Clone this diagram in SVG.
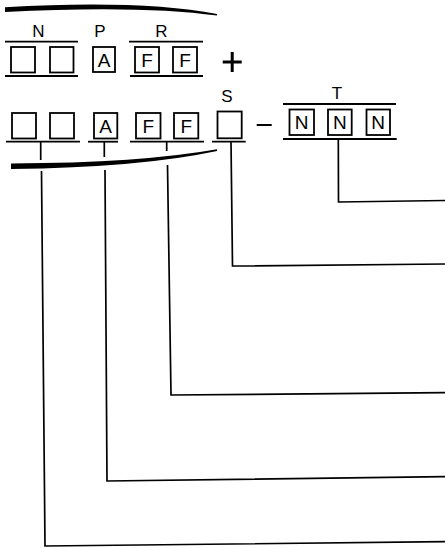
<svg xmlns="http://www.w3.org/2000/svg" width="445" height="548" viewBox="0 0 445 548">
<style>
  .bx { fill: none; stroke: #000; stroke-width: 1.8; }
  .ln { fill: none; stroke: #000; stroke-width: 1.8; }
  .cn { fill: none; stroke: #000; stroke-width: 1.7; }
  .lb { font-family: "Liberation Sans", Arial, sans-serif; font-size: 17px; fill: #000; text-anchor: middle; }
  .bl { font-family: "Liberation Sans", Arial, sans-serif; font-size: 19px; fill: #000; text-anchor: middle; }
  .thick { fill: #000; stroke: none; }
</style>
<rect width="445" height="548" fill="#fff"/>

<!-- top brace curve -->
<path class="thick" d="M5,7.2 Q140,-0.5 217,14 L217,15.6 Q140,5 5,12 Z"/>

<!-- Row 1 -->
<g id="row1-N">
  <text class="lb" x="38.5" y="37">N</text>
  <line class="ln" x1="5" y1="41.7" x2="78" y2="41.7"/>
  <rect class="bx" x="11" y="47" width="24" height="25.5"/>
  <rect class="bx" x="50" y="47" width="23.5" height="25.5"/>
  <line class="ln" x1="5" y1="76" x2="78" y2="76"/>
</g>
<g id="row1-P">
  <text class="lb" x="100" y="37">P</text>
  <rect class="bx" x="93" y="47" width="22" height="25"/>
  <text class="bl" x="104" y="66.5">A</text>
</g>
<g id="row1-R">
  <text class="lb" x="161.5" y="37">R</text>
  <line class="ln" x1="129" y1="41.7" x2="203" y2="41.7"/>
  <rect class="bx" x="135" y="47" width="24" height="25.5"/>
  <text class="bl" x="147" y="66.5">F</text>
  <rect class="bx" x="173" y="47" width="24" height="25.5"/>
  <text class="bl" x="185" y="66.5">F</text>
  <line class="ln" x1="130" y1="76" x2="203" y2="76"/>
</g>
<g id="plus">
  <line x1="222.7" y1="62" x2="241.7" y2="62" stroke="#000" stroke-width="3"/>
  <line x1="232.2" y1="52" x2="232.2" y2="72" stroke="#000" stroke-width="3"/>
</g>

<!-- Row 2 -->
<g id="row2-N">
  <rect class="bx" x="12" y="113" width="24" height="25.5"/>
  <rect class="bx" x="50" y="113" width="24" height="25.5"/>
  <line class="ln" x1="6" y1="141.7" x2="80" y2="141.7"/>
</g>
<g id="row2-P">
  <rect class="bx" x="94" y="113" width="23.3" height="25.5"/>
  <text class="bl" x="105.7" y="133">A</text>
  <line class="ln" x1="88" y1="141.7" x2="118" y2="141.7"/>
</g>
<g id="row2-R">
  <rect class="bx" x="136" y="113" width="24.5" height="25.5"/>
  <text class="bl" x="148.3" y="133">F</text>
  <rect class="bx" x="174" y="113" width="24.3" height="25.5"/>
  <text class="bl" x="186.2" y="133">F</text>
  <line class="ln" x1="130" y1="141.7" x2="204" y2="141.7"/>
</g>
<g id="row2-S">
  <text class="lb" x="227" y="102">S</text>
  <rect class="bx" x="217.5" y="111.5" width="24.2" height="26.8"/>
  <line class="ln" x1="212" y1="141.7" x2="245.7" y2="141.7"/>
</g>
<g id="minus">
  <line x1="256.7" y1="125" x2="271.7" y2="125" stroke="#000" stroke-width="2"/>
</g>
<g id="row2-T">
  <text class="lb" x="337" y="99">T</text>
  <line class="ln" x1="283" y1="104" x2="396" y2="104"/>
  <rect class="bx" x="289.5" y="109.5" width="24.5" height="25.5"/>
  <text class="bl" x="301.7" y="129">N</text>
  <rect class="bx" x="328" y="109.5" width="23.7" height="25.5"/>
  <text class="bl" x="339.8" y="129">N</text>
  <rect class="bx" x="366.5" y="109.5" width="23.5" height="25.5"/>
  <text class="bl" x="378.2" y="129">N</text>
  <line class="ln" x1="283" y1="139" x2="396.7" y2="139"/>
</g>

<!-- lower brace curve -->
<path class="thick" d="M11,163.5 Q140,163 217,149.3 L217,151 Q140,167.5 11,169 Z"/>

<!-- connectors -->
<g id="connectors">
  <line class="cn" x1="40.7" y1="142" x2="40.7" y2="160"/>
  <polyline class="cn" points="41.5,171 45,546 445,541.7"/>
  <line class="cn" x1="104.3" y1="142" x2="104.3" y2="157"/>
  <polyline class="cn" points="105,170 107,481 445,476.7"/>
  <line class="cn" x1="166.7" y1="142" x2="166.7" y2="151"/>
  <polyline class="cn" points="167.5,165 171,395 445,392.7"/>
  <polyline class="cn" points="231,142 232.5,266 445,264"/>
  <polyline class="cn" points="338.3,139 338.5,202 445,200.5"/>
</g>
</svg>
